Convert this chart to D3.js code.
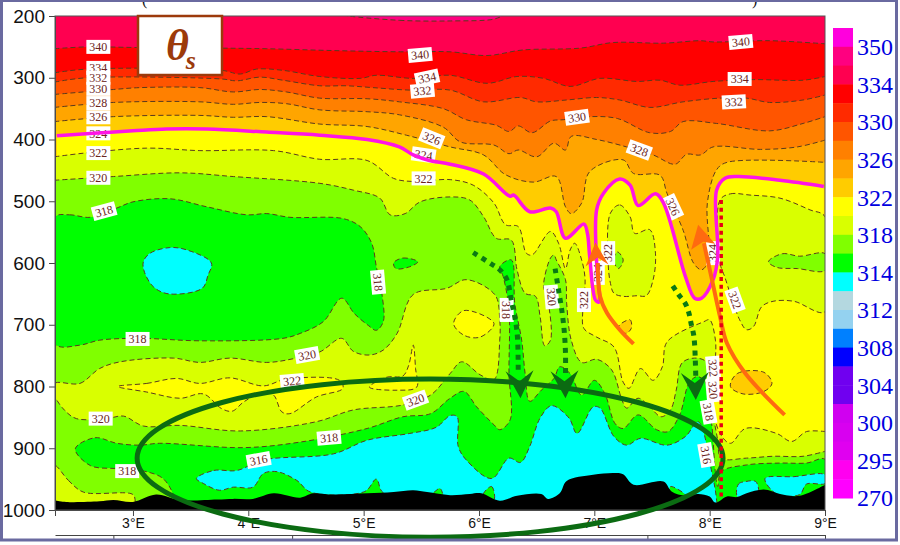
<!DOCTYPE html>
<html>
<head>
<meta charset="utf-8">
<script src="https://cdn.jsdelivr.net/npm/d3@7"></script>
<style>
html, body { margin: 0; padding: 0; background: #fff; }
svg { display: block; }
</style>
</head>
<body>
<script>
// all contour data is [longitude (deg E), pressure (hPa)]
const pressureTicks = [200, 300, 400, 500, 600, 700, 800, 900, 1000];
const lonTicks = [3, 4, 5, 6, 7, 8, 9];
const lowerAxisTicks = [2.83, 4.38, 5.92, 7.46, 9];

const barColors = ["#ff00dd", "#ff0080", "#ff0050", "#ff0000", "#ff2a00", "#ff5500", "#ff8000", "#ffa500", "#ffcc00",
    "#ffff00", "#d9ff00", "#80ff00", "#00ff00", "#00ffff", "#b4d8e0", "#94d2f0", "#0080ff", "#0000ff",
    "#7000f0", "#7000f0", "#d000f0", "#d800f0", "#e000f0", "#ff00f0", "#ff00ff"];
const barLabels = ["350", "334", "330", "326", "322", "318", "314", "312", "308", "304", "300", "295", "270"];

const top350 = [[4.85,199],[5.31,207],[5.75,208],[6.13,205],[6.2,199]];
const c340 = [[2.32,253],[2.6,250],[3.03,251],[3.75,252],[4.16,253],[4.74,256],[5.32,258],[5.75,258],[6.07,264],[6.38,255],[6.88,252],[7.16,243],[7.6,244],[7.92,240],[8.03,242],[8.52,240],[9,245]];
const c334 = [[2.32,292],[2.6,286],[3.77,288],[3.93,294],[4.07,286],[4.3,288],[4.62,298],[4.97,301],[5.11,296],[5.43,301],[5.75,296],[6.07,309],[6.33,298],[6.56,301],[6.79,314],[7.05,301],[7.37,306],[7.57,304],[7.74,312],[8.03,306],[8.38,303],[8.81,304],[9,298]];
const c332 = [[2.32,307],[2.6,300],[3.77,302],[3.9,305],[4.1,299],[4.3,304],[4.62,313],[4.85,313],[5.08,316],[5.4,320],[5.75,320],[6.04,339],[6.36,332],[6.5,339],[6.76,336],[7.02,332],[7.22,336],[7.48,348],[7.77,339],[8.09,333],[8.32,333],[8.52,340],[8.81,336],[9,328]];
const c330 = [[2.32,327],[2.83,319],[3.06,316],[3.58,316],[3.87,323],[4.1,319],[4.33,323],[4.62,333],[5.03,334],[5.31,339],[5.69,350],[5.89,368],[6.15,377],[6.26,387],[6.34,378],[6.46,389],[6.62,370],[6.73,368],[6.96,363],[7.2,366],[7.48,389],[7.66,387],[7.77,371],[8.06,374],[8.52,386],[8.81,374],[9,363]];
const c328 = [[2.32,348],[2.83,340],[3.58,339],[3.87,343],[4.1,340],[4.33,342],[4.62,352],[5.03,355],[5.31,360],[5.69,380],[5.84,404],[6.13,409],[6.26,423],[6.34,417],[6.5,428],[6.65,406],[6.75,417],[6.8,395],[7.02,400],[7.28,412],[7.51,425],[7.7,440],[7.8,424],[7.92,425],[8.03,412],[8.44,416],[8.76,412],[9,401]];
const c326 = [[2.32,371],[2.83,363],[3.58,361],[3.87,364],[4.16,363],[4.62,375],[5.03,379],[5.37,393],[5.75,412],[6.04,425],[6.23,457],[6.47,469],[6.67,460],[6.75,509],[6.8,520],[6.89,503],[6.96,452],[7.25,433],[7.34,455],[7.57,458],[7.63,487],[7.77,547],[7.86,600],[7.93,611],[7.99,595],[7.98,503],[8.06,449],[8.15,437],[9,437]];
const magenta324 = [[2.34,394],[2.66,390],[3,386],[3.29,383],[3.64,383],[4.16,388],[4.62,393],[5.03,400],[5.31,412],[5.43,425],[5.57,434],[5.75,440],[6.04,456],[6.27,492],[6.3,490],[6.44,517],[6.62,511],[6.67,517],[6.75,560],[6.91,537],[6.94,552],[6.96,590],[7.01,660],[7.04,663],[7.02,600],[7.02,514],[7.08,487],[7.22,464],[7.31,474],[7.38,507],[7.53,488],[7.6,503],[7.79,622],[7.87,657],[7.93,657],[8.03,627],[8.07,590],[8.06,482],[8.13,463],[8.24,460],[8.61,466],[8.99,476]];
const c322 = [[2.32,428],[2.58,422],[3.12,414],[3.58,418],[4.22,418],[4.62,432],[5.03,434],[5.26,463],[5.43,468],[5.75,465],[5.95,474],[6.13,503],[6.23,538],[6.34,541],[6.41,584],[6.46,587],[6.62,549],[6.69,568],[6.75,609],[6.79,579],[6.83,568],[6.89,595],[6.92,627],[6.9,676],[6.91,706],[7.02,720],[7.17,736],[7.25,793],[7.3,803],[7.4,771],[7.51,790],[7.59,768],[7.63,728],[7.95,695],[8,692],[8.05,725],[8.05,757],[8.03,833],[8.09,876],[8.18,892],[8.31,868],[8.58,876],[8.71,889],[8.84,873],[9,873]];
const c320 = [[2.32,466],[2.83,460],[3.41,454],[3.87,460],[4.62,471],[4.91,482],[5.14,495],[5.23,522],[5.36,520],[5.49,501],[5.75,493],[5.92,498],[6.04,525],[6.15,560],[6.28,563],[6.33,611],[6.4,649],[6.49,654],[6.53,687],[6.57,734],[6.62,725],[6.59,654],[6.56,638],[6.62,592],[6.65,587],[6.67,595],[6.75,627],[6.76,665],[6.8,725],[6.89,761],[7.02,756],[7.15,773],[7.24,822],[7.28,835],[7.38,819],[7.48,833],[7.58,849],[7.66,838],[7.71,806],[7.76,762],[7.87,754],[7.97,760],[8,787],[8.02,833],[8.07,887],[8.1,916],[8.32,916],[8.55,913],[8.81,913],[9,905]];

const blobRight = [[8.09,498],[8.18,488],[8.35,490],[8.61,495],[8.87,514],[9,525],[9,679],[8.73,662],[8.55,662],[8.45,671],[8.38,703],[8.32,708],[8.26,692],[8.13,622],[8.09,600]];
const blobCentre = [[7.14,519],[7.22,506],[7.31,525],[7.35,552],[7.48,546],[7.53,584],[7.51,627],[7.45,653],[7.37,653],[7.25,654],[7.17,649],[7.14,633],[7.12,600]];
const blobLeft = [[2.32,795],[2.54,795],[2.71,771],[2.89,760],[3.35,754],[3.58,761],[3.84,754],[4.16,761],[4.39,755],[4.62,744],[4.81,722],[4.91,743],[5.05,749],[5.17,741],[5.29,714],[5.43,651],[5.72,641],[5.89,627],[6.14,652],[6.18,692],[6.18,725],[6.13,789],[6.01,781],[5.85,760],[5.75,779],[5.58,814],[5.34,830],[4.91,838],[4.59,857],[3.93,872],[3.41,863],[3.09,864],[2.92,848],[2.77,852],[2.51,852],[2.41,839],[2.32,814]];
const cornerLowerLeft = [[2.32,928],[2.44,952],[2.57,971],[3,975],[3.02,987],[3.02,1000],[2.32,1000]];

const yellowLeft = [[2.87,800],[3.12,795],[3.38,787],[3.58,795],[3.84,786],[4.13,799],[4.33,788],[4.79,790],[4.82,803],[4.59,817],[4.36,844],[4.29,841],[4.22,814],[4.13,809],[3.96,825],[3.86,840],[3.77,836],[3.61,812],[3.41,819],[3.12,809]];
const yellowSpike = [[5.05,801],[5.2,785],[5.34,783],[5.39,766],[5.43,733],[5.45,771],[5.46,801],[5.29,806]];
const yellowMiddle = [[5.78,698],[5.87,677],[6.13,698],[6.01,720],[5.87,717]];
const amberSmall = [[7.21,703],[7.31,692],[7.32,706],[7.27,714]];
const amberRight = [[8.18,800],[8.24,779],[8.47,777],[8.54,795],[8.47,808],[8.29,812]];

const limeRight = [[8.51,598],[8.63,585],[8.78,589],[9,585],[9,612],[8.76,609],[8.58,607]];
const limeSmall = [[7.17,592],[7.2,582],[7.25,595],[7.21,609],[7.18,603]];

const greenUpper = [[2.32,526],[2.45,522],[2.63,526],[2.86,511],[3,501],[3.32,496],[3.64,509],[3.99,522],[4.16,520],[4.36,526],[4.82,528],[4.97,541],[5.07,568],[5.11,606],[5.16,652],[5.17,695],[5.11,709],[5.04,701],[4.92,682],[4.81,657],[4.65,695],[4.45,714],[4.3,722],[3.58,726],[3.06,722],[2.71,725],[2.54,733],[2.32,731]];
const greenSmall = [[5.26,600],[5.34,592],[5.47,598],[5.4,606],[5.28,609]];
const greenLower = [[2.5,901],[2.67,883],[2.86,892],[3.06,895],[3.23,892],[3.96,899],[4.45,890],[5.03,868],[5.34,849],[5.58,844],[5.75,819],[5.87,808],[5.98,833],[6.13,862],[6.18,870],[6.27,854],[6.26,779],[6.26,676],[6.21,622],[6.18,606],[6.28,595],[6.31,665],[6.37,725],[6.4,779],[6.44,824],[6.54,806],[6.65,787],[6.7,768],[6.79,779],[6.89,814],[7,790],[7.09,811],[7.18,860],[7.25,868],[7.38,846],[7.54,870],[7.64,873],[7.74,846],[7.82,795],[7.89,784],[7.96,792],[7.99,827],[8.02,865],[8.05,940],[8.07,962],[8.1,938],[8.32,927],[8.61,924],[8.84,924],[9,918],[9,1000],[3.35,1000],[3.35,976],[3.26,949],[3.12,938],[3.03,936],[2.86,933],[2.63,928]];
const greenTriangleA = [[6.04,973],[6.11,962],[6.13,984],[6.04,985]];
const greenTriangleB = [[7.66,962],[7.79,976],[7.7,978],[7.66,975]];

const cyanUpper = [[3.09,598],[3.15,584],[3.32,575],[3.47,579],[3.68,600],[3.65,620],[3.6,641],[3.31,650],[3.18,639],[3.1,615]];
const cyanLower = [[3.55,949],[3.7,936],[3.9,936],[4.13,919],[4.74,909],[5.03,887],[5.4,876],[5.63,866],[5.75,847],[5.81,849],[5.82,897],[5.89,919],[6.11,949],[6.26,916],[6.36,923],[6.44,897],[6.53,851],[6.63,831],[6.78,851],[6.85,876],[6.99,833],[7.05,835],[7.17,881],[7.28,895],[7.4,884],[7.63,895],[7.79,881],[7.9,857],[8.02,940],[8.06,984],[8.06,1000],[5.7,1000],[5.69,977],[5.66,965],[5.59,973],[5.17,972],[5.11,950],[5.01,970],[4.54,971],[4.42,952],[4.25,938],[4.13,941],[4.04,963],[3.87,963],[3.75,968],[3.61,957]];
const cyanIslandA = [[8.24,978],[8.25,958],[8.31,954],[8.4,954],[8.42,976],[8.34,981]];
const cyanIslandB = [[8.48,949],[8.73,946],[9,943],[9,957],[8.84,958],[8.78,975],[8.58,974]];

const terrain = [[2.32,984],[2.42,987],[2.71,986],[2.83,984],[3,987],[3.2,975],[3.41,984],[3.73,983],[3.87,982],[4.04,982],[4.22,973],[4.45,980],[4.56,973],[4.74,975],[5.03,973],[5.26,971],[5.43,968],[5.55,971],[5.75,976],[5.92,974],[6.02,973],[6.18,985],[6.33,977],[6.54,974],[6.6,982],[6.7,973],[6.76,953],[6.99,943],[7.17,940],[7.25,942],[7.34,959],[7.6,954],[7.67,970],[7.79,977],[7.9,974],[8,978],[8.05,988],[8.15,978],[8.24,979],[8.32,973],[8.47,967],[8.61,974],[8.78,977],[9,959]];

// label text, lon, hPa, rotation
const contourLabels = [
    ["340",2.70,250,0],["334",2.70,284,0],["332",2.70,300,0],["330",2.70,318,0],["328",2.70,341,0],["326",2.70,364,0],["324",2.70,390,0],["322",2.70,422,0],["320",2.70,462,0],["318",2.75,516,-15],
    ["340",5.49,263,-5],["334",5.55,300,-12],["332",5.51,321,-5],["326",5.59,398,22],["324",5.52,425,8],["322",5.52,463,0],
    ["340",8.27,242,-5],["334",8.26,302,0],["332",8.21,339,-3],["330",6.85,364,-8],["328",7.39,417,20],["326",7.68,509,65],
    ["318",5.125,631,85],["318",3.04,723,0],["320",4.51,749,-10],["322",4.38,791,-5],["320",2.72,852,0],["320",5.45,822,-20],["318",4.70,883,-5],["316",4.09,919,-10],["318",2.95,937,0],
    ["318",6.24,676,90],["320",6.63,655,85],["322",6.91,660,-90],["324",7.03,616,-90],["322",7.12,584,-90],["324",8.03,584,-90],["322",8.22,660,70],
    ["322",8.03,770,85],["320",8.03,806,85],["318",7.99,841,80],["316",7.97,911,80]
];

const dottedGreenA = [[5.95,583],[6.11,602],[6.18,611],[6.24,626],[6.28,660],[6.33,712],[6.34,781]];
const dottedGreenB = [[6.66,609],[6.69,644],[6.72,679],[6.74,712],[6.75,746],[6.75,781]];
const dottedGreenC = [[7.68,637],[7.73,651],[7.79,666],[7.82,681],[7.84,699],[7.86,715],[7.87,733],[7.88,787]];
const greenArrowTips = [[6.36,819],[6.75,819],[7.88,822]];
const orangeArrowA = [[7.03,600],[7.05,654],[7.11,681],[7.22,708],[7.34,731]];
const orangeArrowB = [[7.95,568],[8.02,627],[8.09,687],[8.15,730],[8.31,779],[8.65,846]];
const orangeTipA = [7.01,567];
const orangeTipB = [7.90,538];
const redLine = [[8.10,498],[8.10,983]];
const ellipseCentre = [5.576,916];
const ellipseRadii = [2.54,128];

const width = 900, height = 545;
const plot = {left: 55, right: 825, top: 16, bottom: 510};

const x = d3.scaleLinear().domain([2.324, 9]).range([plot.left, plot.right]);
const y = d3.scaleLinear().domain([200, 1000]).range([plot.top, plot.bottom]);

const svg = d3.select("body").append("svg")
    .attr("width", width)
    .attr("height", height)
    .style("font-family", "'Liberation Sans', Arial, sans-serif");

svg.append("defs").append("clipPath").attr("id", "plotClip")
    .append("rect")
    .attr("x", plot.left).attr("y", plot.top)
    .attr("width", plot.right - plot.left).attr("height", plot.bottom - plot.top);

const lineOpen = d3.line().x(d => x(d[0])).y(d => y(d[1])).curve(d3.curveCatmullRom.alpha(0.5));
const lineClosed = d3.line().x(d => x(d[0])).y(d => y(d[1])).curve(d3.curveCatmullRomClosed.alpha(0.5));

// region under a left-to-right contour, closed along the bottom of the plot
function below(points) {
    const first = points[0], last = points[points.length - 1];
    return lineOpen(points) + `L${x(last[0])},${plot.bottom}L${x(first[0])},${plot.bottom}L${x(first[0])},${y(first[1])}Z`;
}

// painter's order: each layer covers what came before
const layers = [
    [top350, "#ff0080"],
    [c340, "#ff0000", "below"],
    [c334, "#ff2a00", "below"],
    [c332, "#ff5500", "below"],
    [c330, "#ff8000", "below"],
    [c328, "#ffa500", "below"],
    [c326, "#ffcc00", "below"],
    [magenta324, "#ffff00", "below"],
    [c322, "#d9ff00", "below"],
    [blobRight, "#d9ff00"],
    [blobCentre, "#d9ff00"],
    [amberSmall, "#ffcc00"],
    [limeRight, "#80ff00"],
    [limeSmall, "#80ff00"],
    [c320, "#80ff00", "below"],
    [amberRight, "#ffcc00"],
    [greenUpper, "#00ff00"],
    [greenSmall, "#00ff00"],
    [cyanUpper, "#00ffff"],
    [blobLeft, "#d9ff00"],
    [yellowLeft, "#ffff00"],
    [yellowSpike, "#ffff00"],
    [yellowMiddle, "#ffff00"],
    [cornerLowerLeft, "#d9ff00"],
    [greenLower, "#00ff00"],
    [cyanLower, "#00ffff"],
    [greenTriangleA, "#00ff00"],
    [greenTriangleB, "#00ff00"],
    [cyanIslandA, "#00ffff"],
    [cyanIslandB, "#00ffff"]
];

const field = svg.append("g").attr("clip-path", "url(#plotClip)");

field.append("rect")
    .attr("x", plot.left).attr("y", plot.top)
    .attr("width", plot.right - plot.left).attr("height", plot.bottom - plot.top)
    .attr("fill", "#ff0050");

field.selectAll("path.band")
    .data(layers)
    .enter().append("path")
    .attr("class", "band")
    .attr("fill", d => d[1])
    .attr("d", d => d[2] === "below" ? below(d[0]) : lineClosed(d[0]));

// dashed contour lines on top of all the fills
field.selectAll("path.contour")
    .data(layers.filter(d => d[0] !== magenta324))
    .enter().append("path")
    .attr("class", "contour")
    .attr("fill", "none")
    .attr("stroke", "#5b3a1c")
    .attr("stroke-width", 1)
    .attr("stroke-dasharray", "5,3")
    .attr("d", d => d[2] === "below" ? lineOpen(d[0]) : lineClosed(d[0]));

field.append("path")
    .attr("fill", "#000")
    .attr("d", below(terrain));

// axes
const yAxis = svg.append("g")
    .attr("transform", `translate(${plot.left},0)`)
    .call(d3.axisLeft(y).tickValues(pressureTicks).tickSize(6).tickPadding(4).tickFormat(d3.format("d")));
yAxis.selectAll("text").attr("font-size", 19).attr("fill", "#111").style("font-family", "'Liberation Sans', Arial, sans-serif");

const xAxis = svg.append("g")
    .attr("transform", `translate(0,${plot.bottom})`)
    .call(d3.axisBottom(x).tickValues(lonTicks).tickSize(6).tickPadding(2).tickFormat(d => d + "°E"));
xAxis.selectAll("text").attr("font-size", 14).attr("fill", "#111").style("font-family", "'Liberation Sans', Arial, sans-serif");

svg.selectAll(".domain, .tick line").attr("stroke", "#444");

svg.append("g")
    .attr("transform", "translate(0,535)")
    .call(d3.axisBottom(x).tickValues(lowerAxisTicks).tickSize(4).tickSizeOuter(0).tickFormat(""))
    .selectAll(".domain, .tick line").attr("stroke", "#444");

svg.append("rect")
    .attr("x", plot.left).attr("y", plot.top)
    .attr("width", plot.right - plot.left).attr("height", plot.bottom - plot.top)
    .attr("fill", "none").attr("stroke", "#555").attr("stroke-width", 1);

// contour labels
const labelGroups = svg.selectAll("g.clabel")
    .data(contourLabels)
    .enter().append("g")
    .attr("class", "clabel")
    .attr("transform", d => `translate(${x(d[1])},${y(d[2])}) rotate(${d[3]})`);

labelGroups.append("rect")
    .attr("x", -12).attr("y", -7).attr("width", 24).attr("height", 14)
    .attr("fill", "#fff");

labelGroups.append("text")
    .attr("text-anchor", "middle")
    .attr("dy", "0.35em")
    .attr("font-size", 12)
    .attr("fill", "#6b2420")
    .style("font-family", "'Liberation Serif', serif")
    .text(d => d[0]);

// tropopause-like theta line
const straightLine = d3.line().x(d => x(d[0])).y(d => y(d[1]));

svg.append("path")
    .attr("d", lineOpen(magenta324))
    .attr("fill", "none")
    .attr("stroke", "#ff14e6")
    .attr("stroke-width", 3.5)
    .attr("stroke-linejoin", "round");

// annotation ellipse
svg.append("ellipse")
    .attr("cx", x(ellipseCentre[0]))
    .attr("cy", y(ellipseCentre[1]))
    .attr("rx", x(ellipseCentre[0] + ellipseRadii[0]) - x(ellipseCentre[0]))
    .attr("ry", y(ellipseCentre[1] + ellipseRadii[1]) - y(ellipseCentre[1]))
    .attr("fill", "none")
    .attr("stroke", "#0b6b12")
    .attr("stroke-width", 5);

// downward dotted arrows
[dottedGreenA, dottedGreenB, dottedGreenC].forEach(pts => {
    svg.append("path")
        .attr("d", lineOpen(pts))
        .attr("fill", "none")
        .attr("stroke", "#0a7a14")
        .attr("stroke-width", 5)
        .attr("stroke-dasharray", "5,5");
});

svg.selectAll("path.greenhead")
    .data(greenArrowTips)
    .enter().append("path")
    .attr("class", "greenhead")
    .attr("fill", "#0b6b12")
    .attr("transform", d => `translate(${x(d[0])},${y(d[1])})`)
    .attr("d", "M0,0L-15,-27L-1,-17L13,-28Z");

// rising orange arrows
[orangeArrowA, orangeArrowB].forEach(pts => {
    svg.append("path")
        .attr("d", lineOpen(pts))
        .attr("fill", "none")
        .attr("stroke", "#ff6a10")
        .attr("stroke-width", 4);
});

svg.append("path")
    .attr("fill", "#ff6a10")
    .attr("transform", `translate(${x(orangeTipA[0])},${y(orangeTipA[1])})`)
    .attr("d", "M0,0L-10,24L2,15L13,22Z");

svg.append("path")
    .attr("fill", "#ff6a10")
    .attr("transform", `translate(${x(orangeTipB[0])},${y(orangeTipB[1])})`)
    .attr("d", "M0,0L-7,25L5,17L17,19Z");

svg.append("path")
    .attr("d", straightLine(redLine))
    .attr("stroke", "#e60012")
    .attr("stroke-width", 3.5)
    .attr("stroke-dasharray", "4,3.7");

// title box
const box = svg.append("g").attr("transform", "translate(138,16)");
box.append("rect")
    .attr("width", 84).attr("height", 59)
    .attr("fill", "#fff")
    .attr("stroke", "#9c3a0b")
    .attr("stroke-width", 2.5);
const boxText = box.append("text")
    .attr("x", 28).attr("y", 44)
    .attr("fill", "#9c3a0b")
    .attr("font-weight", "bold")
    .attr("font-style", "italic")
    .style("font-family", "'Liberation Serif', serif");
boxText.append("tspan").attr("font-size", 44).text("θ");
boxText.append("tspan").attr("font-size", 26).attr("dy", 9).attr("dx", -3).text("s");

// colour bar
const barY = d3.scaleBand().domain(d3.range(barColors.length)).range([28, 498]);

svg.selectAll("rect.bar")
    .data(barColors)
    .enter().append("rect")
    .attr("class", "bar")
    .attr("x", 833).attr("width", 20)
    .attr("y", (d, i) => barY(i))
    .attr("height", barY.bandwidth() + 0.5)
    .attr("fill", d => d);

svg.selectAll("text.barlabel")
    .data(barLabels)
    .enter().append("text")
    .attr("class", "barlabel")
    .attr("x", 857)
    .attr("y", (d, i) => barY(0) + barY.step() * (i * 2 + 1))
    .attr("dy", "0.35em")
    .attr("font-size", 24)
    .attr("fill", "#0000e0")
    .style("font-family", "'Liberation Serif', serif")
    .text(d => d);

// tops of the brackets from the cropped title
svg.selectAll("text.bracket")
    .data([["(", 142], [")", 752]])
    .enter().append("text")
    .attr("class", "bracket")
    .attr("x", d => d[1]).attr("y", 5)
    .attr("font-size", 16)
    .attr("fill", "#111")
    .style("font-family", "'Liberation Serif', serif")
    .text(d => d[0]);

// slide frame
svg.append("rect")
    .attr("x", 1.5).attr("y", 0.5)
    .attr("width", 895).attr("height", 539.5)
    .attr("fill", "none")
    .attr("stroke", "#6a6aa0")
    .attr("stroke-width", 3);
</script>
</body>
</html>
